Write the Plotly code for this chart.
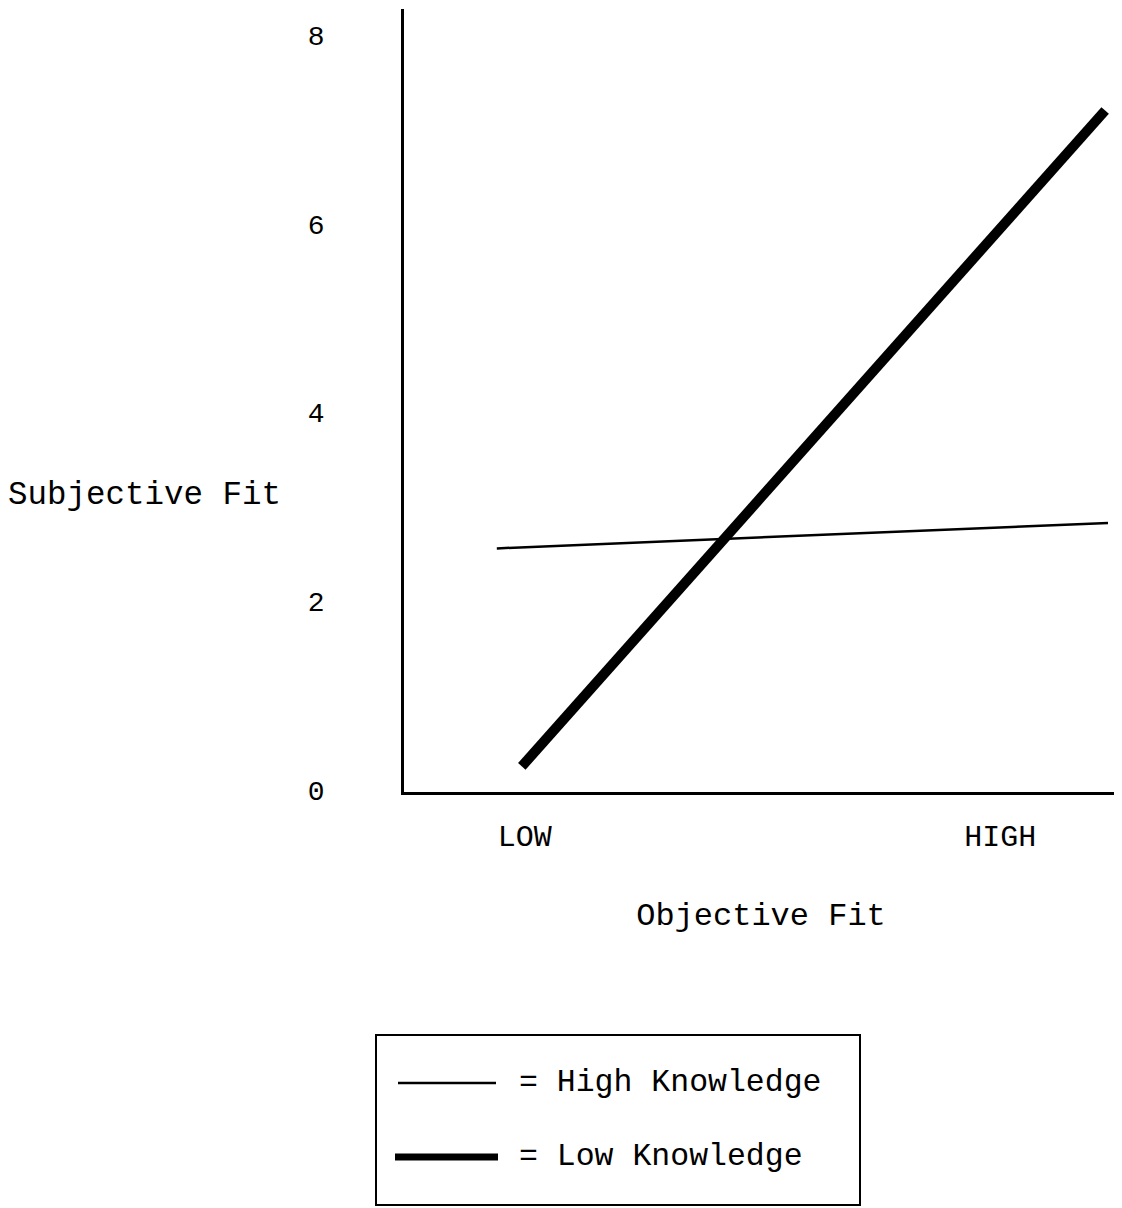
import plotly.graph_objects as go

# ---- data ----
objective_fit_ticks = [1.69, 8.35]
objective_fit_labels = ["LOW", "HIGH"]

high_knowledge_x = [1.30, 9.86]
high_knowledge_y = [2.56, 2.83]

low_knowledge_x = [1.65, 9.82]
low_knowledge_y = [0.25, 7.20]

subjective_fit_ticks = [0, 2, 4, 6, 8]

series_names = ["= High Knowledge", "= Low Knowledge"]

# ---- layout geometry (page pixels) ----
W, H = 1122, 1208
OFF = 8  # page body margin
L, R, T, B = 404, 1118, 9, 792
pw, ph = R - L, B - T

def px(x):
    return (x - L) / pw

def py(y):
    return (B - y) / ph

FONT = "Courier New, Liberation Mono, monospace"

fig = go.Figure()
fig.add_trace(go.Scatter(x=high_knowledge_x, y=high_knowledge_y, mode="lines",
                         name=series_names[0], line=dict(color="black", width=2.5),
                         showlegend=False))
fig.add_trace(go.Scatter(x=low_knowledge_x, y=low_knowledge_y, mode="lines",
                         name=series_names[1], line=dict(color="black", width=10),
                         showlegend=False))

shapes = [
    dict(type="rect", xref="paper", yref="paper", x0=px(376), x1=px(860),
         y0=py(1205), y1=py(1035), line=dict(color="black", width=2)),
    dict(type="line", xref="paper", yref="paper", x0=px(398), x1=px(496),
         y0=py(1083), y1=py(1083), line=dict(color="black", width=2.5)),
    dict(type="line", xref="paper", yref="paper", x0=px(395), x1=px(498),
         y0=py(1157), y1=py(1157), line=dict(color="black", width=7)),
]

annotations = [
    dict(text="Subjective Fit", xref="paper", yref="paper", x=px(6), y=py(495),
         xanchor="left", yanchor="middle", showarrow=False,
         font=dict(size=32.5, color="black", family=FONT)),
    dict(text=series_names[0], xref="paper", yref="paper", x=px(517), y=py(1082),
         xanchor="left", yanchor="middle", showarrow=False,
         font=dict(size=31.5, color="black", family=FONT)),
    dict(text=series_names[1], xref="paper", yref="paper", x=px(517), y=py(1156),
         xanchor="left", yanchor="middle", showarrow=False,
         font=dict(size=31.5, color="black", family=FONT)),
]

fig.update_layout(
    width=W, height=H,
    margin=dict(l=L - OFF, r=W - (R - OFF), t=T - OFF, b=H - (B - OFF), pad=0),
    paper_bgcolor="white", plot_bgcolor="white",
    font=dict(family=FONT, size=30, color="black"),
    showlegend=False,
    shapes=shapes,
    annotations=annotations,
    xaxis=dict(range=[0, 10], tickvals=objective_fit_ticks, ticktext=objective_fit_labels,
               showgrid=False, zeroline=False, showline=True, linecolor="black", linewidth=2.5,
               ticks="", ticklabelstandoff=15, tickfont=dict(size=30, family=FONT),
               title=dict(text="Objective Fit", font=dict(size=32, family=FONT), standoff=49)),
    yaxis=dict(range=[-0.021, 8.275], tickvals=subjective_fit_ticks,
               showgrid=False, zeroline=False, showline=True, linecolor="black", linewidth=2.5,
               ticks="", ticklabelstandoff=71, tickfont=dict(size=28, family=FONT)),
)

fig.write_html("out.html")
